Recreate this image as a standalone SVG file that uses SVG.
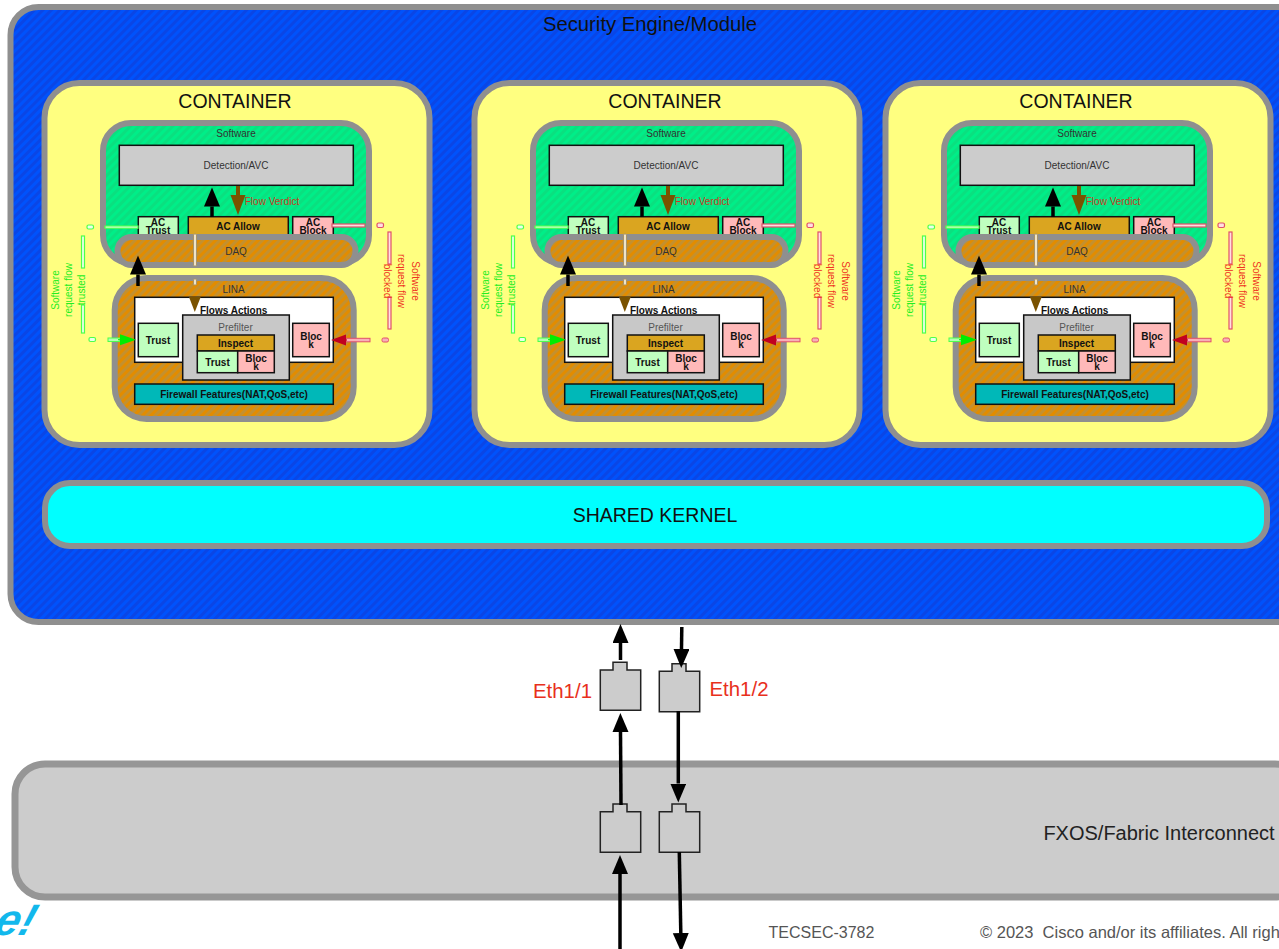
<svg xmlns="http://www.w3.org/2000/svg" width="1279" height="949" viewBox="0 0 1279 949">
<style>
text{font-family:"Liberation Sans",Arial,sans-serif;text-anchor:middle}
.box{stroke:#8f8f8f;stroke-width:6}
.b{stroke:#111;stroke-width:1.5}
.s{font-size:10px;fill:#333}
.bd{font-size:10px;font-weight:bold;fill:#111}
.h{font-size:19.500px;fill:#111}
.tr{fill:#bfffbf}.al{fill:#daa520}.bl{fill:#ffb9b9}
.port{fill:#cccccc;stroke:#222;stroke-width:1.5}
.portb{fill:none;stroke:#222;stroke-width:1.5}
.k{stroke:#000;stroke-width:3.500;fill:none}
.gl{fill:#eaffea;stroke:#4dff4d;stroke-width:1.200}
.gl2{fill:#b4ffb4;stroke:#4dff4d;stroke-width:1}
.rl{fill:#ffe0e0;stroke:#e0506a;stroke-width:1.200}
.rl2{fill:#f8b0b8;stroke:#e0506a;stroke-width:1}
.wl{fill:#efe4c8;stroke:#a89468;stroke-width:1}
.gt{font-size:10px;fill:#22ee22}
.rt{font-size:10px;fill:#ee3322}
</style>
<defs>
<pattern id="hb" width="6" height="6" patternUnits="userSpaceOnUse" patternTransform="rotate(45)"><rect width="6" height="6" fill="#0052fc"/><rect width="3" height="6" fill="#0a46e6"/></pattern>
<pattern id="hg" width="6" height="6" patternUnits="userSpaceOnUse" patternTransform="rotate(45)"><rect width="6" height="6" fill="#00ee88"/><rect width="3" height="6" fill="#0ae080"/></pattern>
<pattern id="ho" width="6" height="6" patternUnits="userSpaceOnUse" patternTransform="rotate(45)"><rect width="6" height="6" fill="#e28c00"/><rect width="3" height="6" fill="#c4902e"/></pattern>
<marker id="mk" markerUnits="userSpaceOnUse" markerWidth="20" markerHeight="18" refX="0" refY="8" orient="auto"><path d="M0,0L19,8L0,16z" fill="#000"/></marker>
<marker id="mb" markerUnits="userSpaceOnUse" markerWidth="21" markerHeight="16" refX="0" refY="7.500" orient="auto"><path d="M0,0L20,7.500L0,15z" fill="#7a5200"/></marker>
<marker id="mg" markerUnits="userSpaceOnUse" markerWidth="17" markerHeight="12" refX="0" refY="5.500" orient="auto"><path d="M0,0L16,5.500L0,11z" fill="#00ee00"/></marker>
<marker id="mr" markerUnits="userSpaceOnUse" markerWidth="16" markerHeight="12" refX="0" refY="5.500" orient="auto"><path d="M0,0L15,5.500L0,11z" fill="#c00020"/></marker>
</defs>
<rect width="1279" height="949" fill="#fff"/>
<text transform="translate(31 935) skewX(-18)" style="text-anchor:end;font-style:italic;font-weight:bold;font-size:44px;fill:#12b8ec">e!</text>

<g id="fxos">
<rect x="15" y="764" width="1290" height="133" rx="30" fill="#cccccc" stroke="#969696" stroke-width="7"/>
<text x="1159" y="840" style="font-size:20px;fill:#222">FXOS/Fabric Interconnect</text>
</g>

<g id="module">
<rect x="10.500" y="7" width="1300" height="615" rx="28" fill="url(#hb)" class="box"/>
<text x="650" y="31" style="font-size:20.300px;fill:#111">Security Engine/Module</text>
</g>

<g id="shared-kernel">
<rect x="45" y="483" width="1222" height="63" rx="25" fill="#00ffff" class="box"/>
<text x="655" y="522" style="font-size:19.500px;fill:#111">SHARED KERNEL</text>
</g>

<g id="container-1">
<rect x="44.500" y="83" width="385" height="362" rx="35" fill="#ffff80" class="box"/>
<text x="235" y="108" class="h">CONTAINER</text>
<g id="software-1"><rect x="103" y="123" width="266" height="140" rx="28" fill="url(#hg)" class="box"/><text x="236" y="137" class="s">Software</text></g>
<g id="detection-1"><rect x="119.300" y="145.300" width="234" height="40" fill="#cccccc" class="b"/><text x="236" y="169" class="s">Detection/AVC</text></g>
<text x="272" y="205" style="font-size:10px;fill:#c83a22">Flow Verdict</text>
<g id="ac-trust-1"><rect x="138.300" y="216.700" width="40" height="19" class="tr b"/><text class="bd"><tspan x="158" y="226">AC</tspan><tspan x="158" y="234">Trust</tspan></text></g>
<g id="ac-allow-1"><rect x="188.300" y="216.700" width="100" height="18.300" class="al b"/><text x="238" y="230" class="bd">AC Allow</text></g>
<g id="ac-block-1"><rect x="292.700" y="216.700" width="40.600" height="19" class="bl b"/><text class="bd"><tspan x="313" y="226">AC</tspan><tspan x="313" y="234">Block</tspan></text></g>
<g id="daq-1"><rect x="117.500" y="237" width="238" height="28" rx="14" fill="url(#ho)" class="box"/><text x="236" y="255" class="s">DAQ</text></g>
<g id="lina-1"><rect x="114.700" y="278" width="239" height="141" rx="32" fill="url(#ho)" class="box"/><text x="233.500" y="293" class="s">LINA</text></g>
<g id="flows-1"><rect x="134.700" y="297.300" width="198.600" height="65" fill="#fff" class="b"/><text x="233.700" y="314" class="bd">Flows Actions</text></g>
<g id="trust-1"><rect x="138.300" y="323.300" width="40" height="33.400" class="tr b"/><text x="158" y="344" class="bd">Trust</text></g>
<g id="prefilter-1"><rect x="182.700" y="315" width="106.600" height="65" fill="#c8c8c8" class="b"/><text x="235.500" y="331" style="font-size:10px;fill:#555">Prefilter</text>
<rect x="197.300" y="335" width="77" height="16" class="al b"/><text x="235.500" y="347" class="bd">Inspect</text>
<rect x="197.300" y="351" width="40.400" height="21.700" class="tr b"/><text x="217.500" y="366" class="bd">Trust</text>
<rect x="237.700" y="351" width="36.600" height="21.700" class="bl b"/><text class="bd"><tspan x="256" y="362">Bloc</tspan><tspan x="256" y="370">k</tspan></text></g>
<g id="block-1"><rect x="292.700" y="323.300" width="36.600" height="33.400" class="bl b"/><text class="bd"><tspan x="311" y="340">Bloc</tspan><tspan x="311" y="348">k</tspan></text></g>
<g id="firewall-1"><rect x="134.700" y="384" width="198.600" height="20.300" fill="#00b8b8" class="b"/><text x="234" y="398" class="bd">Firewall Features(NAT,QoS,etc)</text></g>
</g>

<g id="container-2" transform="translate(430 0)">
<rect x="44.500" y="83" width="385" height="362" rx="35" fill="#ffff80" class="box"/>
<text x="235" y="108" class="h">CONTAINER</text>
<g id="software-2"><rect x="103" y="123" width="266" height="140" rx="28" fill="url(#hg)" class="box"/><text x="236" y="137" class="s">Software</text></g>
<g id="detection-2"><rect x="119.300" y="145.300" width="234" height="40" fill="#cccccc" class="b"/><text x="236" y="169" class="s">Detection/AVC</text></g>
<text x="272" y="205" style="font-size:10px;fill:#c83a22">Flow Verdict</text>
<g id="ac-trust-2"><rect x="138.300" y="216.700" width="40" height="19" class="tr b"/><text class="bd"><tspan x="158" y="226">AC</tspan><tspan x="158" y="234">Trust</tspan></text></g>
<g id="ac-allow-2"><rect x="188.300" y="216.700" width="100" height="18.300" class="al b"/><text x="238" y="230" class="bd">AC Allow</text></g>
<g id="ac-block-2"><rect x="292.700" y="216.700" width="40.600" height="19" class="bl b"/><text class="bd"><tspan x="313" y="226">AC</tspan><tspan x="313" y="234">Block</tspan></text></g>
<g id="daq-2"><rect x="117.500" y="237" width="238" height="28" rx="14" fill="url(#ho)" class="box"/><text x="236" y="255" class="s">DAQ</text></g>
<g id="lina-2"><rect x="114.700" y="278" width="239" height="141" rx="32" fill="url(#ho)" class="box"/><text x="233.500" y="293" class="s">LINA</text></g>
<g id="flows-2"><rect x="134.700" y="297.300" width="198.600" height="65" fill="#fff" class="b"/><text x="233.700" y="314" class="bd">Flows Actions</text></g>
<g id="trust-2"><rect x="138.300" y="323.300" width="40" height="33.400" class="tr b"/><text x="158" y="344" class="bd">Trust</text></g>
<g id="prefilter-2"><rect x="182.700" y="315" width="106.600" height="65" fill="#c8c8c8" class="b"/><text x="235.500" y="331" style="font-size:10px;fill:#555">Prefilter</text>
<rect x="197.300" y="335" width="77" height="16" class="al b"/><text x="235.500" y="347" class="bd">Inspect</text>
<rect x="197.300" y="351" width="40.400" height="21.700" class="tr b"/><text x="217.500" y="366" class="bd">Trust</text>
<rect x="237.700" y="351" width="36.600" height="21.700" class="bl b"/><text class="bd"><tspan x="256" y="362">Bloc</tspan><tspan x="256" y="370">k</tspan></text></g>
<g id="block-2"><rect x="292.700" y="323.300" width="36.600" height="33.400" class="bl b"/><text class="bd"><tspan x="311" y="340">Bloc</tspan><tspan x="311" y="348">k</tspan></text></g>
<g id="firewall-2"><rect x="134.700" y="384" width="198.600" height="20.300" fill="#00b8b8" class="b"/><text x="234" y="398" class="bd">Firewall Features(NAT,QoS,etc)</text></g>
</g>

<g id="container-3" transform="translate(841 0)">
<rect x="44.500" y="83" width="385" height="362" rx="35" fill="#ffff80" class="box"/>
<text x="235" y="108" class="h">CONTAINER</text>
<g id="software-3"><rect x="103" y="123" width="266" height="140" rx="28" fill="url(#hg)" class="box"/><text x="236" y="137" class="s">Software</text></g>
<g id="detection-3"><rect x="119.300" y="145.300" width="234" height="40" fill="#cccccc" class="b"/><text x="236" y="169" class="s">Detection/AVC</text></g>
<text x="272" y="205" style="font-size:10px;fill:#c83a22">Flow Verdict</text>
<g id="ac-trust-3"><rect x="138.300" y="216.700" width="40" height="19" class="tr b"/><text class="bd"><tspan x="158" y="226">AC</tspan><tspan x="158" y="234">Trust</tspan></text></g>
<g id="ac-allow-3"><rect x="188.300" y="216.700" width="100" height="18.300" class="al b"/><text x="238" y="230" class="bd">AC Allow</text></g>
<g id="ac-block-3"><rect x="292.700" y="216.700" width="40.600" height="19" class="bl b"/><text class="bd"><tspan x="313" y="226">AC</tspan><tspan x="313" y="234">Block</tspan></text></g>
<g id="daq-3"><rect x="117.500" y="237" width="238" height="28" rx="14" fill="url(#ho)" class="box"/><text x="236" y="255" class="s">DAQ</text></g>
<g id="lina-3"><rect x="114.700" y="278" width="239" height="141" rx="32" fill="url(#ho)" class="box"/><text x="233.500" y="293" class="s">LINA</text></g>
<g id="flows-3"><rect x="134.700" y="297.300" width="198.600" height="65" fill="#fff" class="b"/><text x="233.700" y="314" class="bd">Flows Actions</text></g>
<g id="trust-3"><rect x="138.300" y="323.300" width="40" height="33.400" class="tr b"/><text x="158" y="344" class="bd">Trust</text></g>
<g id="prefilter-3"><rect x="182.700" y="315" width="106.600" height="65" fill="#c8c8c8" class="b"/><text x="235.500" y="331" style="font-size:10px;fill:#555">Prefilter</text>
<rect x="197.300" y="335" width="77" height="16" class="al b"/><text x="235.500" y="347" class="bd">Inspect</text>
<rect x="197.300" y="351" width="40.400" height="21.700" class="tr b"/><text x="217.500" y="366" class="bd">Trust</text>
<rect x="237.700" y="351" width="36.600" height="21.700" class="bl b"/><text class="bd"><tspan x="256" y="362">Bloc</tspan><tspan x="256" y="370">k</tspan></text></g>
<g id="block-3"><rect x="292.700" y="323.300" width="36.600" height="33.400" class="bl b"/><text class="bd"><tspan x="311" y="340">Bloc</tspan><tspan x="311" y="348">k</tspan></text></g>
<g id="firewall-3"><rect x="134.700" y="384" width="198.600" height="20.300" fill="#00b8b8" class="b"/><text x="234" y="398" class="bd">Firewall Features(NAT,QoS,etc)</text></g>
</g>

<g id="port-eth1-1"><path class="port" d="M600.300 670H613V662.300H627V670H640.700V710.300H600.300Z"/></g>
<g id="port-eth1-2"><path class="port" d="M659.300 671.300H672V663.700H686V671.300H699.700V711.700H659.300Z"/></g>
<g id="port-fxos-1"><path class="portb" d="M600.300 811.700H613V804H627V811.700H640.700V852.300H600.300Z"/></g>
<g id="port-fxos-2"><path class="portb" d="M659.300 811.700H672V804H686V811.700H699.700V852.300H659.300Z"/></g>
<text x="562.500" y="698" style="font-size:20.400px;fill:#e8301c">Eth1/1</text>
<text x="739" y="696" style="font-size:20.400px;fill:#e8301c">Eth1/2</text>
<text x="821.500" y="938" style="font-size:16px;fill:#555">TECSEC-3782</text>
<text x="980" y="938" style="text-anchor:start;font-size:16.500px;fill:#555">© 2023&#160; Cisco and/or its affiliates. All righ</text>

<g id="connectors">
<g id="conn-1">
<path class="k" d="M212 217V206.500" marker-end="url(#mk)"/>
<path d="M238 186V195" stroke="#7a5200" stroke-width="4" marker-end="url(#mb)"/>
<path class="k" d="M138 286V274.500" marker-end="url(#mk)"/>
<rect class="wl" x="193.500" y="234" width="3" height="32" rx="1"/><rect class="wl" x="193.500" y="279" width="3" height="6" rx="1"/>
<path d="M189 297H200.700L194.800 312Z" fill="#7a5200"/>
<rect class="gl" x="87" y="225" width="6.500" height="4" rx="1.500"/><rect class="gl" x="105" y="226" width="33" height="2.200"/>
<rect class="gl" x="81.500" y="236" width="3" height="32"/><rect class="gl" x="81.500" y="305" width="3" height="28"/>
<rect class="gl" x="89" y="337.500" width="6.500" height="4" rx="1.500"/><rect class="gl2" x="108" y="338" width="12" height="3.500"/>
<path d="M118 339.700H120" stroke="#00ee00" stroke-width="1" marker-end="url(#mg)"/>
<rect class="rl" x="332" y="224" width="33" height="3"/><rect class="rl" x="377" y="223" width="6.500" height="4.500" rx="1.500"/>
<rect class="rl" x="388" y="232" width="3" height="32"/><rect class="rl" x="388" y="297" width="3" height="32"/>
<rect class="rl2" x="382" y="338" width="6.500" height="4" rx="1.500"/><rect class="rl2" x="346" y="338.300" width="24" height="3.500"/>
<path d="M347 340H346" stroke="#c00020" stroke-width="1" marker-end="url(#mr)"/>
</g>
<g id="conn-2" transform="translate(430 0)">
<path class="k" d="M212 217V206.500" marker-end="url(#mk)"/>
<path d="M238 186V195" stroke="#7a5200" stroke-width="4" marker-end="url(#mb)"/>
<path class="k" d="M138 286V274.500" marker-end="url(#mk)"/>
<rect class="wl" x="193.500" y="234" width="3" height="32" rx="1"/><rect class="wl" x="193.500" y="279" width="3" height="6" rx="1"/>
<path d="M189 297H200.700L194.800 312Z" fill="#7a5200"/>
<rect class="gl" x="87" y="225" width="6.500" height="4" rx="1.500"/><rect class="gl" x="105" y="226" width="33" height="2.200"/>
<rect class="gl" x="81.500" y="236" width="3" height="32"/><rect class="gl" x="81.500" y="305" width="3" height="28"/>
<rect class="gl" x="89" y="337.500" width="6.500" height="4" rx="1.500"/><rect class="gl2" x="108" y="338" width="12" height="3.500"/>
<path d="M118 339.700H120" stroke="#00ee00" stroke-width="1" marker-end="url(#mg)"/>
<rect class="rl" x="332" y="224" width="33" height="3"/><rect class="rl" x="377" y="223" width="6.500" height="4.500" rx="1.500"/>
<rect class="rl" x="388" y="232" width="3" height="32"/><rect class="rl" x="388" y="297" width="3" height="32"/>
<rect class="rl2" x="382" y="338" width="6.500" height="4" rx="1.500"/><rect class="rl2" x="346" y="338.300" width="24" height="3.500"/>
<path d="M347 340H346" stroke="#c00020" stroke-width="1" marker-end="url(#mr)"/>
</g>
<g id="conn-3" transform="translate(841 0)">
<path class="k" d="M212 217V206.500" marker-end="url(#mk)"/>
<path d="M238 186V195" stroke="#7a5200" stroke-width="4" marker-end="url(#mb)"/>
<path class="k" d="M138 286V274.500" marker-end="url(#mk)"/>
<rect class="wl" x="193.500" y="234" width="3" height="32" rx="1"/><rect class="wl" x="193.500" y="279" width="3" height="6" rx="1"/>
<path d="M189 297H200.700L194.800 312Z" fill="#7a5200"/>
<rect class="gl" x="87" y="225" width="6.500" height="4" rx="1.500"/><rect class="gl" x="105" y="226" width="33" height="2.200"/>
<rect class="gl" x="81.500" y="236" width="3" height="32"/><rect class="gl" x="81.500" y="305" width="3" height="28"/>
<rect class="gl" x="89" y="337.500" width="6.500" height="4" rx="1.500"/><rect class="gl2" x="108" y="338" width="12" height="3.500"/>
<path d="M118 339.700H120" stroke="#00ee00" stroke-width="1" marker-end="url(#mg)"/>
<rect class="rl" x="332" y="224" width="33" height="3"/><rect class="rl" x="377" y="223" width="6.500" height="4.500" rx="1.500"/>
<rect class="rl" x="388" y="232" width="3" height="32"/><rect class="rl" x="388" y="297" width="3" height="32"/>
<rect class="rl2" x="382" y="338" width="6.500" height="4" rx="1.500"/><rect class="rl2" x="346" y="338.300" width="24" height="3.500"/>
<path d="M347 340H346" stroke="#c00020" stroke-width="1" marker-end="url(#mr)"/>
</g>
<path class="k" d="M620.500 660V643" marker-end="url(#mk)"/>
<path class="k" d="M681.800 627L681.500 649" marker-end="url(#mk)"/>
<path class="k" d="M621 805L620.500 732" marker-end="url(#mk)"/>
<path class="k" d="M678.300 711V783.500" marker-end="url(#mk)"/>
<path class="k" d="M620 949V874" marker-end="url(#mk)"/>
<path class="k" d="M679.300 852L680.800 933" marker-end="url(#mk)"/>
</g>

<g id="flow-labels">
<g transform="rotate(-90)"><text x="-290" y="59" class="gt">Software</text><text x="-290" y="72" class="gt">request flow</text><text x="-290" y="85" class="gt">trusted</text></g>
<g transform="rotate(90)"><text x="281" y="-412" class="rt">Software</text><text x="281" y="-398" class="rt">request flow</text><text x="281" y="-384" class="rt">blocked</text></g>
<g transform="translate(430 0)"><g transform="rotate(-90)"><text x="-290" y="59" class="gt">Software</text><text x="-290" y="72" class="gt">request flow</text><text x="-290" y="85" class="gt">trusted</text></g>
<g transform="rotate(90)"><text x="281" y="-412" class="rt">Software</text><text x="281" y="-398" class="rt">request flow</text><text x="281" y="-384" class="rt">blocked</text></g></g>
<g transform="translate(841 0)"><g transform="rotate(-90)"><text x="-290" y="59" class="gt">Software</text><text x="-290" y="72" class="gt">request flow</text><text x="-290" y="85" class="gt">trusted</text></g>
<g transform="rotate(90)"><text x="281" y="-412" class="rt">Software</text><text x="281" y="-398" class="rt">request flow</text><text x="281" y="-384" class="rt">blocked</text></g></g>
</g>
</svg>
